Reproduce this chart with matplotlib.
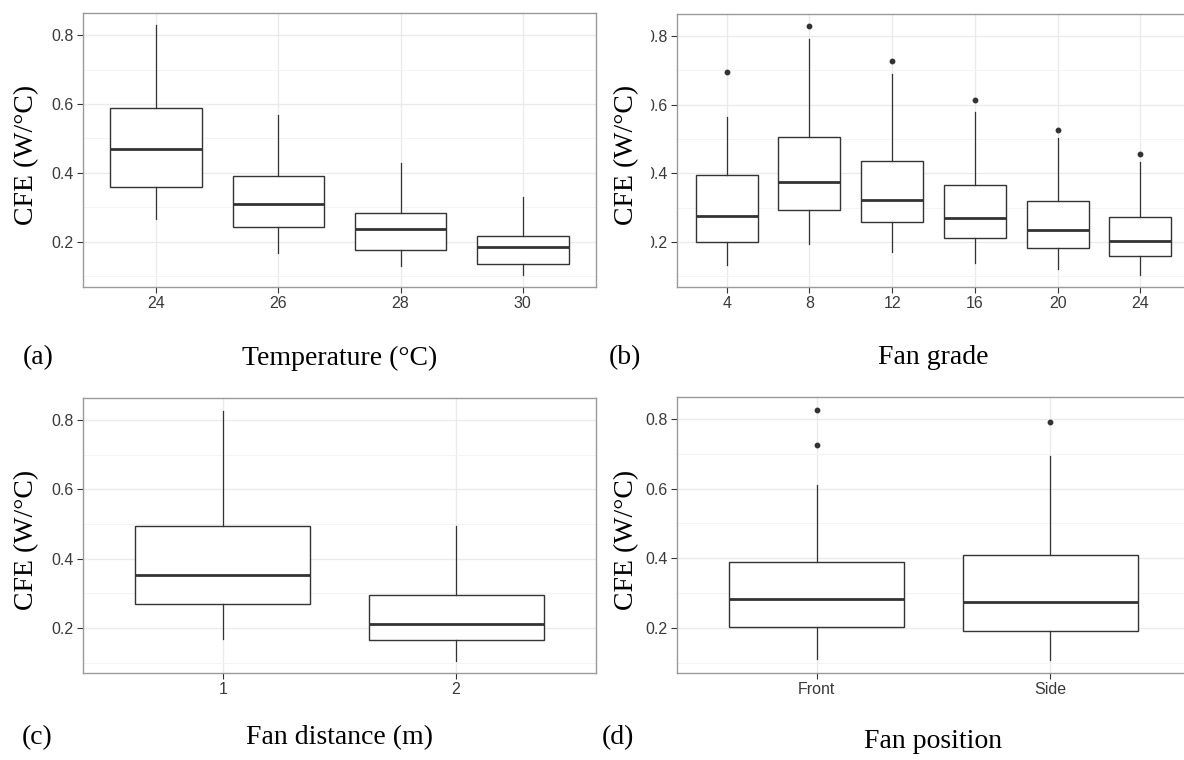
import numpy as np
import matplotlib.pyplot as plt
from matplotlib.patches import Rectangle

# data (box stats per group)

temp_cats = ['24', '26', '28', '30']
temp_low = [0.266, 0.168, 0.131, 0.105]
temp_q1 = [0.358, 0.242, 0.176, 0.136]
temp_med = [0.469, 0.310, 0.238, 0.185]
temp_q3 = [0.587, 0.391, 0.285, 0.217]
temp_high = [0.828, 0.568, 0.428, 0.331]
temp_out = [[], [], [], []]

grade_cats = ['4', '8', '12', '16', '20', '24']
grade_low = [0.132, 0.193, 0.171, 0.140, 0.120, 0.105]
grade_q1 = [0.200, 0.293, 0.257, 0.211, 0.183, 0.160]
grade_med = [0.275, 0.374, 0.323, 0.270, 0.234, 0.203]
grade_q3 = [0.394, 0.505, 0.437, 0.367, 0.318, 0.273]
grade_high = [0.563, 0.792, 0.690, 0.580, 0.504, 0.432]
grade_out = [[0.695], [0.828], [0.726], [0.614], [0.526], [0.455]]

dist_cats = ['1', '2']
dist_low = [0.169, 0.106]
dist_q1 = [0.268, 0.164]
dist_med = [0.354, 0.212]
dist_q3 = [0.493, 0.296]
dist_high = [0.827, 0.493]
dist_out = [[], []]

pos_cats = ['Front', 'Side']
pos_low = [0.109, 0.106]
pos_q1 = [0.203, 0.192]
pos_med = [0.284, 0.273]
pos_q3 = [0.388, 0.410]
pos_high = [0.611, 0.693]
pos_out = [[0.827, 0.724], [0.792]]

W, H = 1184, 760
fig = plt.figure(figsize=(W/100, H/100), dpi=100)

serif = 'Liberation Serif'
sans = 'Liberation Sans'


def px_axes(left, top, width, height):
    return fig.add_axes([left/W, 1 - (top+height)/H, width/W, height/H])


def draw_panel(ax, cats, low, q1, med, q3, high, out):
    stats = []
    for i in range(len(cats)):
        stats.append(dict(whislo=low[i], q1=q1[i], med=med[i], q3=q3[i],
                          whishi=high[i], fliers=out[i]))
    pos = np.arange(1, len(cats)+1)
    ax.bxp(stats, positions=pos, widths=0.75, showcaps=False, patch_artist=True,
           boxprops=dict(facecolor='white', edgecolor='#333333', linewidth=1.0),
           medianprops=dict(color='#333333', linewidth=2.0),
           whiskerprops=dict(color='#333333', linewidth=0.9),
           flierprops=dict(marker='o', markersize=3.2, markerfacecolor='#333333',
                           markeredgecolor='#333333'),
           zorder=3)
    allv = low + high + [v for o in out for v in o]
    lo, hi = min(allv), max(allv)
    pad = (hi - lo) * 0.05
    ax.set_ylim(lo - pad, hi + pad)
    ax.set_xlim(0.4, len(cats) + 0.6)
    ax.set_xticks(pos)
    ax.set_xticklabels(cats)
    ax.set_yticks([0.2, 0.4, 0.6, 0.8])
    ax.set_yticklabels(['0.2', '0.4', '0.6', '0.8'])
    ax.set_yticks([0.1, 0.3, 0.5, 0.7], minor=True)
    ax.grid(True, which='major', color='#EBEBEB', linewidth=1.0, zorder=0)
    ax.grid(True, which='minor', axis='y', color='#F3F3F3', linewidth=0.6, zorder=0)
    ax.set_axisbelow(True)
    ax.tick_params(which='major', length=4, width=0.8, color='#333333', pad=2.5,
                   labelsize=11.5, labelcolor='#3a3a3a')
    ax.tick_params(which='minor', length=0)
    for lab in ax.get_xticklabels() + ax.get_yticklabels():
        lab.set_family(sans)
    for sp in ax.spines.values():
        sp.set_color('#9a9a9a')
        sp.set_linewidth(1.0)


ax_a = px_axes(83, 13, 513, 274)
draw_panel(ax_a, temp_cats, temp_low, temp_q1, temp_med, temp_q3, temp_high, temp_out)
ax_b = px_axes(677, 14, 513, 273)
draw_panel(ax_b, grade_cats, grade_low, grade_q1, grade_med, grade_q3, grade_high, grade_out)
ax_c = px_axes(83, 398, 513, 275)
draw_panel(ax_c, dist_cats, dist_low, dist_q1, dist_med, dist_q3, dist_high, dist_out)
ax_d = px_axes(677, 397, 513, 276)
draw_panel(ax_d, pos_cats, pos_low, pos_q1, pos_med, pos_q3, pos_high, pos_out)

# panel (b) was cropped on the left in the original, so its y labels are cut
clip = Rectangle((651/W, 0), 1, 0.5 + 0.5, transform=fig.transFigure, visible=False)
fig.add_artist(clip)
for lab in ax_b.get_yticklabels():
    lab.set_clip_path(clip)

ylab = 'CFE (W/\u00b0C)'
fs = 20
fig.text(27/W, 1 - 155/H, ylab, rotation=90, ha='center', va='center', family=serif, fontsize=fs)
fig.text(627/W, 1 - 155/H, ylab, rotation=90, ha='center', va='center', family=serif, fontsize=fs)
fig.text(27/W, 1 - 540/H, ylab, rotation=90, ha='center', va='center', family=serif, fontsize=fs)
fig.text(627/W, 1 - 540/H, ylab, rotation=90, ha='center', va='center', family=serif, fontsize=fs)

fig.text(340/W, 1 - 358/H, 'Temperature (\u00b0C)', ha='center', va='center', family=serif, fontsize=fs)
fig.text(933/W, 1 - 358/H, 'Fan grade', ha='center', va='center', family=serif, fontsize=fs)
fig.text(340/W, 1 - 738/H, 'Fan distance (m)', ha='center', va='center', family=serif, fontsize=fs)
fig.text(933/W, 1 - 741/H, 'Fan position', ha='center', va='center', family=serif, fontsize=fs)

fig.text(38/W, 1 - 358/H, '(a)', ha='center', va='center', family=serif, fontsize=fs)
fig.text(625/W, 1 - 358/H, '(b)', ha='center', va='center', family=serif, fontsize=fs)
fig.text(37/W, 1 - 738/H, '(c)', ha='center', va='center', family=serif, fontsize=fs)
fig.text(618/W, 1 - 738/H, '(d)', ha='center', va='center', family=serif, fontsize=fs)

fig.savefig('out.png', dpi=100)
